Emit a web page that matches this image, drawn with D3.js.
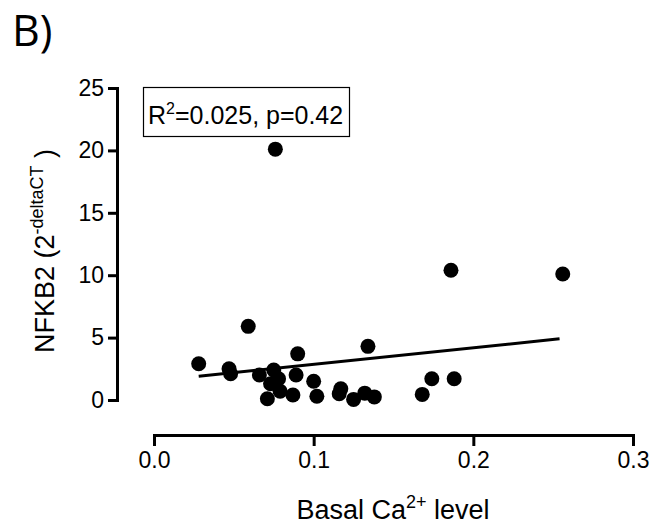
<!DOCTYPE html>
<html><head><meta charset="utf-8">
<script src="https://cdn.jsdelivr.net/npm/d3@7"></script>
<style>
html,body{margin:0;padding:0;background:#fff;}
text{font-family:"Liberation Sans",Arial,sans-serif;fill:#000;}
</style></head>
<body><svg id="chart" width="660" height="527"></svg>
<script>
// Data
const caLevel = [0.028,0.047,0.048,0.059,0.066,0.076,0.075,0.078,0.073,0.079,0.071,0.087,0.090,0.089,0.100,0.102,0.117,0.116,0.134,0.125,0.132,0.138,0.168,0.174,0.186,0.188,0.256];
const nfkb2   = [2.9,  2.5,  2.1,  5.9,  2.0,  20.1, 2.4,  1.7,  1.3,  0.7,  0.1,  0.4,  3.7,  2.0,  1.5,  0.3,  0.9,  0.5,  4.3,  0.05, 0.55, 0.25, 0.45, 1.7,  10.4, 1.7,  10.1];
const fitX = [0.028, 0.254];
const fitY = [1.9, 4.9];
const xTicks = [0, 0.1, 0.2, 0.3];
const yTicks = [0, 5, 10, 15, 20, 25];

const svg = d3.select("#chart");
const x = d3.scaleLinear().domain([0, 0.3]).range([154, 633]);
const y = d3.scaleLinear().domain([0, 25]).range([400, 88]);

// panel label
svg.append("text").attr("x", 12).attr("y", 46)
  .style("font-family", "'Open Sans', 'DejaVu Sans', sans-serif")
  .style("font-size", "43px").text("B)");

// x axis
const gx = svg.append("g").attr("transform", "translate(0,435)")
  .call(d3.axisBottom(x).tickValues(xTicks).tickFormat(d3.format(".1f")).tickSizeOuter(0).tickSize(11).tickPadding(6));
gx.selectAll("path,line").attr("stroke", "#000").attr("stroke-width", 3);
gx.selectAll("text").style("font-size", "23px").style("font-family", "'Liberation Sans', Arial, sans-serif");

// y axis
const gy = svg.append("g").attr("transform", "translate(117,0)")
  .call(d3.axisLeft(y).tickValues(yTicks).tickFormat(d3.format("d")).tickSizeOuter(0).tickSize(9).tickPadding(4));
gy.selectAll("path,line").attr("stroke", "#000").attr("stroke-width", 3);
gy.selectAll("text").style("font-size", "23px").style("font-family", "'Liberation Sans', Arial, sans-serif");
d3.selectAll(".domain").attr("fill", "none");

// x label
const xl = svg.append("text").attr("x", 393).attr("y", 519).attr("text-anchor", "middle").style("font-size", "27px");
xl.append("tspan").text("Basal Ca");
xl.append("tspan").attr("dy", -11).style("font-size", "18px").text("2+");
xl.append("tspan").attr("dy", 11).text(" level");

// y label
const yl = svg.append("text").attr("transform", "translate(54,251) rotate(-90)").attr("text-anchor", "middle").style("font-size", "27px");
yl.append("tspan").text("NFKB2 (2");
yl.append("tspan").attr("dy", -11).style("font-size", "18px").text("-deltaCT");
yl.append("tspan").attr("dy", 11).text(" )");

// regression line
svg.append("line")
  .attr("x1", x(fitX[0])).attr("y1", y(fitY[0]))
  .attr("x2", x(fitX[1])).attr("y2", y(fitY[1]))
  .attr("stroke", "#000").attr("stroke-width", 3);

// points
svg.append("g").selectAll("circle").data(caLevel.map((c, i) => [c, nfkb2[i]])).join("circle")
  .attr("cx", d => x(d[0])).attr("cy", d => y(d[1])).attr("r", 7.5).attr("fill", "#000");

// annotation box
svg.append("rect").attr("x", 143.5).attr("y", 87.5).attr("width", 206).attr("height", 49)
  .attr("fill", "#fff").attr("stroke", "#000").attr("stroke-width", 1.2);
const ann = svg.append("text").attr("x", 148).attr("y", 124).style("font-size", "25px");
ann.append("tspan").text("R");
ann.append("tspan").attr("dy", -10).style("font-size", "16px").text("2");
ann.append("tspan").attr("dy", 10).text("=0.025, p=0.42");
</script></body></html>
